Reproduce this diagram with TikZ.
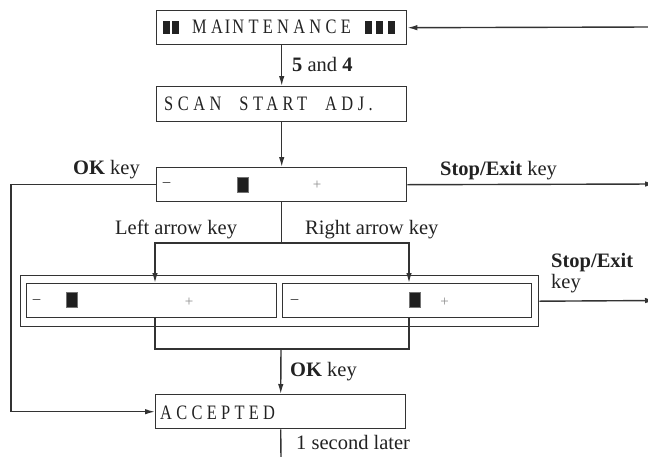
\documentclass[tikz,border=0pt]{standalone}
\usepackage{fontspec}
\setmainfont{Liberation Serif}
\newfontfamily\dispM[FakeStretch=0.8,LetterSpace=21]{Liberation Serif}
\newfontfamily\dispS[FakeStretch=0.8,LetterSpace=22]{Liberation Serif}
\newfontfamily\dispA[FakeStretch=0.8,LetterSpace=21]{Liberation Serif}
\usetikzlibrary{arrows.meta}
\definecolor{ink}{HTML}{222222}
\definecolor{ln}{HTML}{333333}
\begin{document}
\begin{tikzpicture}[x=1pt,y=-1pt,
 lbl/.style={font=\fontsize{20.5}{23}\selectfont, text=ink, inner sep=0pt, anchor=base west},
 dtext/.style={font=\fontsize{20.5}{23}\selectfont, text=ink, inner sep=0pt, anchor=base west},
 box/.style={draw=ln, line width=1.4pt, inner sep=0pt, anchor=north west},
 conn/.style={draw=ln, line width=1.4pt},
 arr/.style={conn, -{Latex[length=10pt,width=5.5pt]}},
 sym/.style={font=\fontsize{15}{16}\selectfont, inner sep=0pt},
 slider/.style={fill=black!88, draw=black!55, line width=0.6pt, minimum width=11pt, minimum height=15pt, inner sep=0pt},
 sq/.style={fill=ink, minimum width=7pt, minimum height=13pt, inner sep=0pt}
]
\useasboundingbox (0,0) rectangle (648,456);
% boxes
\node[box, minimum width=250pt, minimum height=34pt] (maint) at (156,10) {};
\node[box, minimum width=250pt, minimum height=35pt] (scan) at (156,86) {};
\node[box, minimum width=250pt, minimum height=34pt] (adj) at (156,167) {};
\node[box, minimum width=518pt, minimum height=51pt] (grp) at (20,275) {};
\node[box, minimum width=250pt, minimum height=34pt] (lbox) at (26,283) {};
\node[box, minimum width=249pt, minimum height=34pt] (rbox) at (282,283) {};
\node[box, minimum width=250pt, minimum height=34pt] (acc) at (155,394) {};
% box contents
\node[sq] (q1) at (166,27) {};
\node[sq] (q2) at (175,27) {};
\node[sq] (q3) at (368,27) {};
\node[sq] (q4) at (379,27) {};
\node[sq] (q5) at (391,27) {};
\node[dtext] (mtxt) at (192,33.5) {\dispM MA\hspace{2pt}I\hspace{2pt}NTENANCE};
\node[dtext] (stxt) at (164,110) {\dispS SCAN\hspace{18pt}START\hspace{18pt}ADJ.};
\node[dtext] (atxt) at (160,419) {\dispA ACCEPTED};
\node[sym, text=ink] (m1) at (166.5,185) {–};
\node[sym, text=black!45] (p1) at (317,185) {+};
\node[slider] (s1) at (242.5,184.5) {};
\node[sym, text=ink] (m2) at (36.5,302) {–};
\node[sym, text=black!45] (p2) at (189,302) {+};
\node[slider] (s2) at (71.5,300) {};
\node[sym, text=ink] (m3) at (294.5,302) {–};
\node[sym, text=black!45] (p3) at (444.5,302) {+};
\node[slider] (s3) at (415,300) {};
% labels
\node[lbl] (k54) at (292,71) {\textbf{5} and \textbf{4}};
\node[lbl] (okup) at (73,174) {\textbf{OK} key};
\node[lbl] (stopup) at (440,175) {\textbf{Stop/Exit} key};
\node[lbl] (leftk) at (115,234) {Left arrow key};
\node[lbl] (rightk) at (305,234) {Right arrow key};
\node[lbl] (stoplo) at (551,267) {\textbf{Stop/Exit}};
\node[lbl] (keylo) at (551,288) {key};
\node[lbl] (oklo) at (290,376) {\textbf{OK} key};
\node[lbl] (sec) at (296,449) {1 second later};
% coordinates
\coordinate (topin) at (650,27);
\coordinate (out1) at (655,184);
\coordinate (out2) at (655,300.5);
\coordinate (lx) at (11,0);
\coordinate (bl) at (155,243);
\coordinate (br) at (409,243);
\coordinate (cl) at (155,349);
\coordinate (cr) at (409,349);
\coordinate (cm) at (281,349);
\coordinate (bot) at (281,458);
% connectors
\draw[arr] (topin) -- (maint.east);
\draw[arr] (maint.south) -- (scan.north);
\draw[arr] (scan.south) -- (adj.north);
\draw[arr] (adj.west) -- (adj.west -| lx) -- (acc.west -| lx) -- (acc.west);
\draw[arr] (adj.east) -- (out1);
\draw[arr] (adj.south) |- (bl) -- (bl |- lbox.north);
\draw[arr] (adj.south) |- (br) -- (br |- rbox.north);
\draw[arr] (grp.east) -- (out2);
\draw[conn] (bl |- lbox.south) -- (cl) -- (cr) -- (br |- rbox.south);
\draw[arr] (cm) -- (acc.north);
\draw[conn] (acc.south) -- (bot);
\end{tikzpicture}
\end{document}
